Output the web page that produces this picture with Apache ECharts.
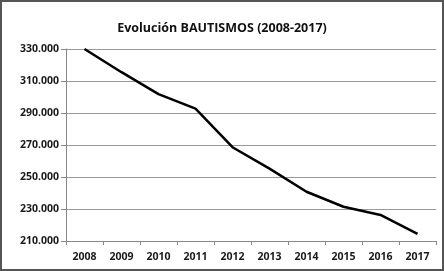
<!DOCTYPE html>
<html>
<head>
<meta charset="utf-8">
<script src="https://cdn.jsdelivr.net/npm/echarts@6/dist/echarts.min.js"></script>
<style>
  html, body { margin: 0; padding: 0; background: #fff; }
  #chart { width: 444px; height: 271px; box-sizing: border-box; border: 2px solid #555; }
</style>
</head>
<body>
<div id="chart"></div>
<script>
// datos
const years = ['2008', '2009', '2010', '2011', '2012', '2013', '2014', '2015', '2016', '2017'];
const bautismos = [330000, 315500, 301800, 292700, 268600, 255200, 240800, 231400, 226300, 214400];

const chart = echarts.init(document.getElementById('chart'));

// 330000 -> "330.000"
function fmt(v) {
  return String(Math.round(v)).replace(/\B(?=(\d{3})+(?!\d))/g, '.');
}

const labelFont = { fontFamily: 'Open Sans', fontWeight: 'bold', fontSize: 10.5, color: '#1a1a1a' };

chart.setOption({
  animation: false,
  title: {
    text: 'Evolución BAUTISMOS (2008-2017)',
    left: 'center',
    top: 15,
    textStyle: { fontFamily: 'Open Sans', fontWeight: 'bold', fontSize: 12.5, color: '#111' }
  },
  grid: { left: 64, right: 6, top: 47, bottom: 28 },
  xAxis: {
    type: 'category',
    data: years,
    boundaryGap: true,
    axisLine: { lineStyle: { color: '#888', width: 1 } },
    axisTick: { show: true, length: 4, lineStyle: { color: '#888' } },
    axisLabel: Object.assign({ margin: 11 }, labelFont)
  },
  yAxis: {
    type: 'value',
    min: 210000,
    max: 330000,
    interval: 20000,
    axisLine: { show: true, lineStyle: { color: '#888', width: 1 } },
    axisTick: { show: true, length: 5, lineStyle: { color: '#888' } },
    splitLine: { lineStyle: { color: '#999', width: 1 } },
    axisLabel: Object.assign({ margin: 7, formatter: fmt }, labelFont)
  },
  series: [{
    type: 'line',
    data: bautismos,
    symbol: 'none',
    lineStyle: { color: '#000', width: 2.5 }
  }]
});
</script>
</body>
</html>
